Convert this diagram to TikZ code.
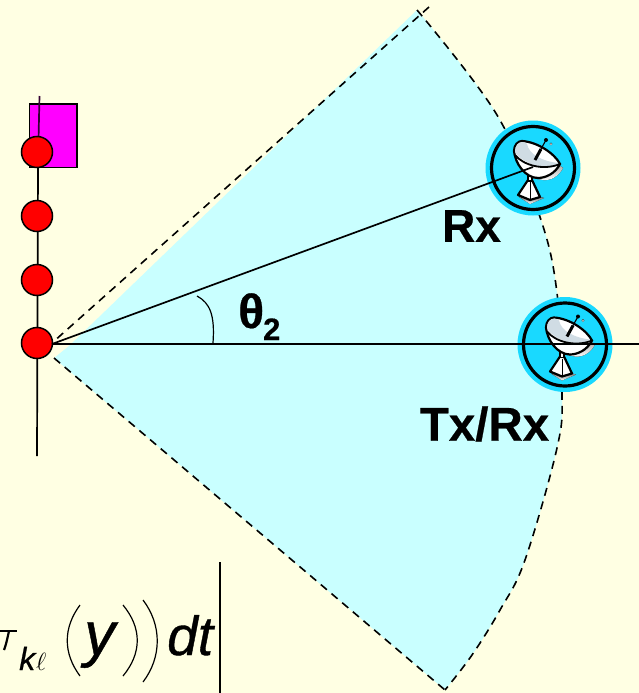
\documentclass[tikz,border=0pt]{standalone}
\usepackage{fontspec}
\setmainfont{Liberation Sans}
\newfontfamily\heavybf[FakeBold=0.5]{Liberation Sans Bold}
\newfontfamily\heavyit[FakeBold=0.7]{Liberation Sans Italic}
\definecolor{bgc}{HTML}{FFFFE3}
\definecolor{fan}{HTML}{C9FFFF}
\definecolor{disc}{HTML}{19D9FF}
\definecolor{shade}{HTML}{0F9FE0}
\definecolor{dishg}{HTML}{D0DCE4}
\definecolor{magc}{HTML}{FF00FF}
\tikzset{
  x=1pt,y=-1pt,
  elem/.style={circle,draw=black,fill=red,line width=1.5pt,minimum size=31pt,inner sep=0pt},
  lbl/.style={inner sep=0pt},
  ln/.style={line width=1.7pt,black},
  edge/.style={line width=1.6pt,dash pattern=on 8pt off 6pt,black},
  radome/.style={circle,draw=black,fill=disc,line width=3.2pt,minimum size=83pt,inner sep=0pt},
  halo/.style={circle,fill=disc,minimum size=95pt,inner sep=0pt}
}
\def\arcpts{(417,10) (497,115) (540,217) (557,293) (562,393) (557,448) (525,560) (500,610) (472,655) (445,690)}
\newcommand{\dishicon}[1]{%
  \begin{scope}[shift={(#1)}]
    \fill[shade] (14,-12) -- (30,0) .. controls (26,8) and (18,13) .. (10,12) -- (0,10) -- cycle;
    \fill[shade] (-14,29) -- (7,29) -- (11,30) -- (-3,36) -- cycle;
    \draw[line width=2.2pt,fill=white,line join=round] (-5,12) -- (-1,12) -- (7,29) -- (-3,32) -- (-15,27) -- cycle;
    \draw[line width=.8pt] (-3,14) -- (-3,31);
    \draw[line width=1.2pt,fill=white] (-5,8) rectangle (-1,13);
    \draw[line width=2.2pt,fill=white] (-19,-17) .. controls (-19,-23) and (-15,-27) .. (-11,-27)
      .. controls (5,-26) and (22,-14) .. (27,-4)
      .. controls (22,6) and (12,10) .. (5,10)
      .. controls (-8,10) and (-18,-5) .. (-19,-17) -- cycle;
    \fill[dishg] (-18,-17) .. controls (-18,-22) and (-15,-26) .. (-11,-26)
      .. controls (-8,-26) and (-7,-25) .. (-6,-24)
      .. controls (-4,-14) and (8,-7) .. (25,-5)
      .. controls (26,-4) and (14,1) .. (1,-3)
      .. controls (-8,-6) and (-17,-12) .. (-18,-17) -- cycle;
    \draw[line width=1.8pt] (-18,-13) .. controls (-10,-3) and (10,3) .. (27,-4);
    \draw[line width=3pt] (2,-8) -- (8,-19);
    \draw[line width=1.1pt] (8,-19) -- (13,-28);
    \fill (13,-28) circle (2pt);
    \fill[shade] (18,-24) circle (1.3pt);
  \end{scope}}
\begin{document}
\begin{tikzpicture}
  \useasboundingbox[fill=bgc] (0,0) rectangle (639,693);
  \coordinate (apex) at (52,343);
  \coordinate (topend) at (429,7);
  \coordinate (botstart) at (54,358);
  \coordinate (botend) at (445,690);
  \coordinate (rxc) at (533,168);
  \coordinate (txc) at (565,344.5);
  \coordinate (lineend) at (639,344);
  \coordinate (txhub) at (52,344);
  \coordinate (rxhub) at (533,167);
  \fill[fan] (69,346) -- (54,358) -- (445,690) -- plot[smooth,tension=.6] coordinates {(445,690) (472,655) (500,610) (525,560) (557,448) (562,393) (557,293) (540,217) (497,115) (417,10)} -- cycle;
  \draw[edge] (topend) -- (apex);
  \draw[edge] (botstart) -- (botend);
  \draw[edge] plot[smooth,tension=.6] coordinates {\arcpts};
  \draw[line width=1.8pt,fill=magc] (29.5,104) rectangle (77,167.5);
  \draw[line width=1.7pt,black!80!magc] (39.5,96) -- (38.5,140);
  \draw[ln] (38,165) -- (37,456);
  \node[elem] (e1) at (37,152) {};
  \node[elem] (e2) at (37,216) {};
  \node[elem] (e3) at (37,280) {};
  \node[elem] (e4) at (37,343) {};
  \node[halo] (rxo) at (rxc) {};
  \node[radome] (rx) at (rxc) {};
  \node[halo] (txo) at (txc) {};
  \node[radome] (tx) at (txc) {};
  \dishicon{rxc}
  \dishicon{txc}
  \draw[ln] (txhub) -- (rxhub);
  \draw[ln] (txhub) -- (lineend);
  \draw[line width=1.2pt] (197,296) .. controls (210,303) and (215,315) .. (213,343);
  \node[lbl,font=\heavybf\fontsize{46}{46}\selectfont] (rxl) at (471.5,226) {Rx};
  \node[lbl,font=\heavybf\fontsize{47.5}{50}\selectfont] (txl) at (484.5,424) {Tx/Rx};
  \node[lbl,anchor=base west,font=\heavybf\fontsize{48}{48}\selectfont] (th) at (238,328) {θ\kern-1pt\raisebox{-12pt}{\fontsize{31}{31}\selectfont 2}};
  \draw[line width=2.2pt] (220,562) -- (220,693);
  \node[inner sep=0pt,anchor=base west,font=\heavyit\fontsize{62}{62}\selectfont] (y) at (84,655) {y};
  \node[inner sep=0pt,anchor=base west,font=\heavyit\fontsize{55}{55}\selectfont] (dt) at (167,655) {dt};
  \node[inner sep=0pt,anchor=base west,font=\heavyit\fontsize{32}{32}\selectfont] (k) at (19,670) {k};
  \node[inner sep=0pt,anchor=base west,font=\fontsize{33}{33}\selectfont] (ell) at (36,670) {$\ell$};
  \draw[line width=2.2pt] (0,631) -- (17,631);
  \draw[line width=2.2pt] (9,631) .. controls (7,640) and (6,645) .. (4,650);
  \draw[line width=1.2pt] (80,605) .. controls (63,628) and (63,653) .. (80,676);
  \draw[line width=1.2pt] (123,605) .. controls (142,628) and (142,653) .. (123,676);
  \draw[line width=1.2pt] (143,600) .. controls (162,625) and (162,657) .. (143,682);
\end{tikzpicture}
\end{document}
